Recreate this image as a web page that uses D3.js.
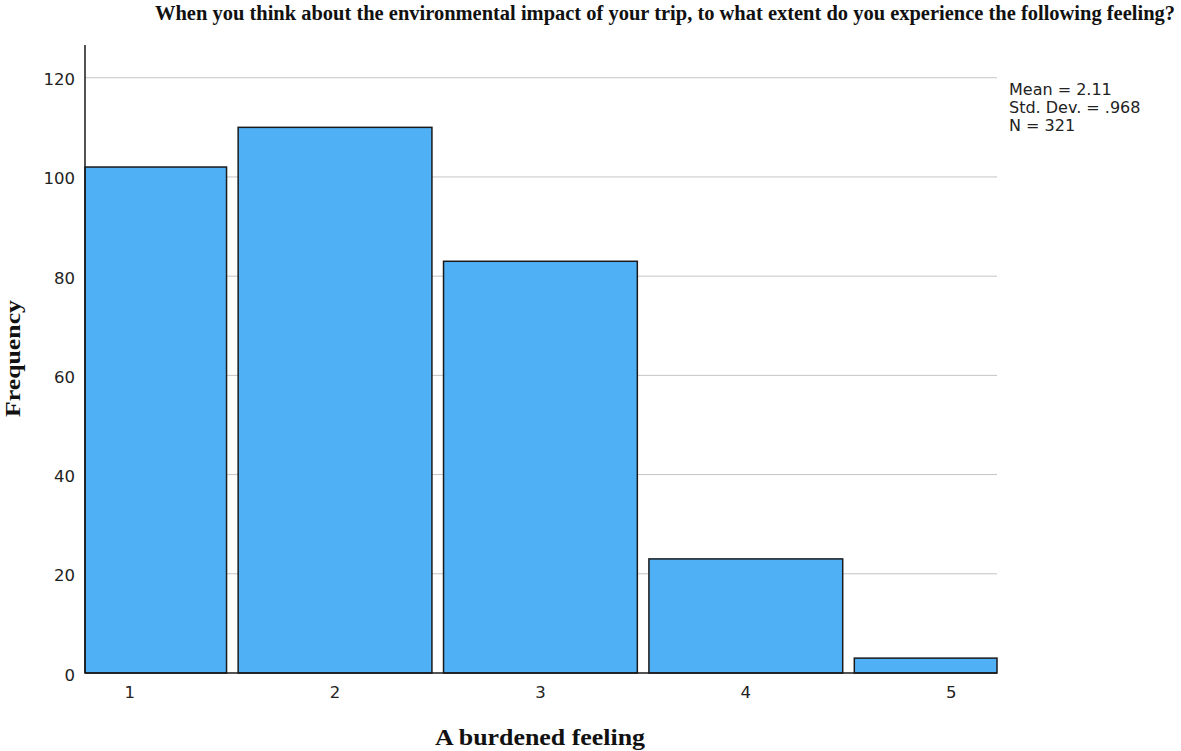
<!DOCTYPE html>
<html>
<head>
<meta charset="utf-8">
<script src="https://cdn.jsdelivr.net/npm/d3@7"></script>
<style>
  html, body { margin: 0; padding: 0; background: #fff; }
  svg { display: block; }
</style>
</head>
<body>
<svg id="chart" width="1181" height="751"></svg>
<script>
const categories = [1, 2, 3, 4, 5];
const frequencies = [102, 110, 83, 23, 3];
const yTicks = [0, 20, 40, 60, 80, 100, 120];
const statsLines = ["Mean = 2.11", "Std. Dev. = .968", "N = 321"];
const titleText = "When you think about the environmental impact of your trip, to what extent do you experience the following feeling?";
const xLabel = "A burdened feeling";
const yLabel = "Frequency";

(function () {
const svg = d3.select("#chart");
const pLeft = 85, pRight = 997, pBottom = 673, pTop = 45;

const x = d3.scaleLinear().domain([0.7826, 5.223]).range([pLeft, pRight]);
const y = d3.scaleLinear().domain([0, 126.6]).range([pBottom, pTop]);

// gridlines
svg.append("g").selectAll("line").data(yTicks.filter(d => d > 0)).join("line")
  .attr("x1", pLeft).attr("x2", pRight)
  .attr("y1", d => y(d)).attr("y2", d => y(d))
  .attr("stroke", "#c4c4c4").attr("stroke-width", 1);

// bars
const gap = 5.8;
const bars = categories.map((c, i) => {
  const x0 = Math.max(pLeft, x(c - 0.5) + gap);
  const x1 = Math.min(pRight, x(c + 0.5) - gap);
  return { c, v: frequencies[i], x0, x1 };
});
svg.append("g").selectAll("rect").data(bars).join("rect")
  .attr("x", d => d.x0)
  .attr("y", d => y(d.v))
  .attr("width", d => d.x1 - d.x0)
  .attr("height", d => y(0) - y(d.v))
  .attr("fill", "#50b0f6")
  .attr("stroke", "#1a1a1a")
  .attr("stroke-width", 1.5);

// axes lines
svg.append("line").attr("x1", pLeft).attr("x2", pLeft).attr("y1", pTop).attr("y2", pBottom)
  .attr("stroke", "#1a1a1a").attr("stroke-width", 1.5);
svg.append("line").attr("x1", pLeft).attr("x2", pRight).attr("y1", pBottom).attr("y2", pBottom)
  .attr("stroke", "#1a1a1a").attr("stroke-width", 1.5);

// y tick labels
svg.append("g").selectAll("text").data(yTicks).join("text")
  .attr("x", 75).attr("y", d => y(d) + 7.5)
  .attr("text-anchor", "end")
  .attr("font-family", "DejaVu Sans").attr("font-size", 16.5)
  .attr("fill", "#222")
  .text(d => d);

// x tick labels
svg.append("g").selectAll("text").data(categories).join("text")
  .attr("x", d => x(d)).attr("y", 698)
  .attr("text-anchor", "middle")
  .attr("font-family", "DejaVu Sans").attr("font-size", 16.5)
  .attr("fill", "#222")
  .text(d => d);

// stats
svg.append("g").selectAll("text").data(statsLines).join("text")
  .attr("x", 1009).attr("y", (d, i) => 95 + i * 17.8)
  .attr("font-family", "DejaVu Sans").attr("font-size", 16)
  .attr("fill", "#222")
  .text(d => d);

// title
svg.append("text")
  .attr("x", 155).attr("y", 20)
  .attr("font-family", "Liberation Serif").attr("font-weight", "bold").attr("font-size", 20)
  .attr("textLength", 1020).attr("lengthAdjust", "spacingAndGlyphs")
  .attr("fill", "#111")
  .text(titleText);

// x label
svg.append("text")
  .attr("x", 435).attr("y", 745)
  .attr("font-family", "Liberation Serif").attr("font-weight", "bold").attr("font-size", 23)
  .attr("textLength", 210).attr("lengthAdjust", "spacingAndGlyphs")
  .attr("fill", "#111")
  .text(xLabel);

// y label
svg.append("text")
  .attr("transform", "translate(20,417) rotate(-90)")
  .attr("font-family", "Liberation Serif").attr("font-weight", "bold").attr("font-size", 22)
  .attr("textLength", 117).attr("lengthAdjust", "spacingAndGlyphs")
  .attr("fill", "#111")
  .text(yLabel);
})();
</script>
</body>
</html>
